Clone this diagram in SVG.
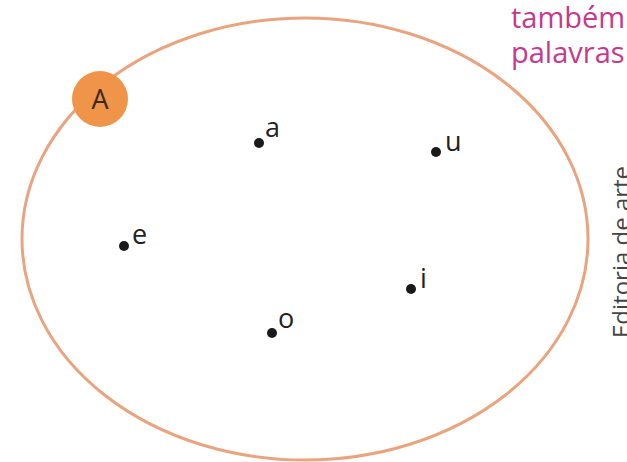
<svg xmlns="http://www.w3.org/2000/svg" width="627" height="462" viewBox="0 0 627 462">
<style>
.lbl{font-family:"Open Sans","Noto Sans",sans-serif;font-size:27px;fill:#222}
.dot{fill:#1a1a1a}
.pink{font-family:"Open Sans","Noto Sans",sans-serif;font-size:29px;fill:#C43A8E}
</style>
<rect width="627" height="462" fill="#ffffff"/>
<text class="pink" x="511" y="28">também</text>
<text class="pink" x="511" y="63">palavras</text>
<text x="630" y="338" transform="rotate(-90 630 338)" font-family="Open Sans, Noto Sans, sans-serif" font-size="24" fill="#444">Editoria de arte</text>
<g id="set">
<ellipse cx="305" cy="239" rx="283" ry="221" fill="none" stroke="#E9A47F" stroke-width="3"/>
</g>
<g id="labelA">
<circle cx="100" cy="99" r="28" fill="#F0944A"/>
<text x="100" y="109" text-anchor="middle" font-family="Open Sans, Noto Sans, sans-serif" font-size="27" fill="#3a2a1a">A</text>
</g>
<g id="a"><circle class="dot" cx="259" cy="143" r="5"/><text class="lbl" x="265" y="137">a</text></g>
<g id="u"><circle class="dot" cx="436" cy="152" r="5"/><text class="lbl" x="445" y="151">u</text></g>
<g id="e"><circle class="dot" cx="124" cy="246" r="5"/><text class="lbl" x="132" y="244">e</text></g>
<g id="i"><circle class="dot" cx="411" cy="289" r="5"/><text class="lbl" x="420" y="288">i</text></g>
<g id="o"><circle class="dot" cx="272" cy="333" r="5"/><text class="lbl" x="278" y="328">o</text></g>
</svg>
